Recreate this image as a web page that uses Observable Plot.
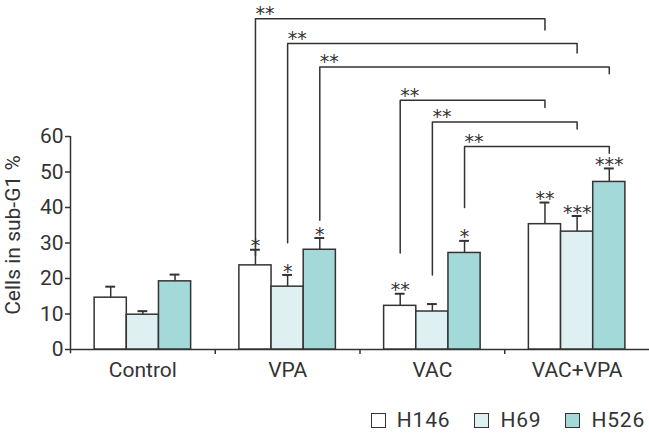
<!DOCTYPE html>
<html>
<head>
<meta charset="utf-8">
<script src="https://cdn.jsdelivr.net/npm/d3@7"></script>
<script src="https://cdn.jsdelivr.net/npm/@observablehq/plot@0.6"></script>
<style>
  body { margin: 0; background: #fff; font-family: Roboto, sans-serif; color: #333; }
  #wrap { position: relative; width: 649px; height: 435px; }
  #legend { position: absolute; left: 0; top: 408px; width: 645px; display: flex; justify-content: flex-end; align-items: center; font-size: 21px; letter-spacing: 0.8px; }
  .item { display: flex; align-items: center; margin-left: 24px; }
  .sw { width: 13px; height: 13px; border: 1.5px solid #333; margin-right: 11px; }
</style>
</head>
<body>
<div id="wrap"><div id="chart"></div><div id="legend"></div></div>
<script>
const categories = ["Control", "VPA", "VAC", "VAC+VPA"];
const seriesNames = ["H146", "H69", "H526"];
const h146Mean = [14.6, 23.7, 12.3, 35.3];
const h146Err  = [3.1, 4.4, 3.4, 6.1];
const h69Mean  = [9.8, 17.7, 10.7, 33.2];
const h69Err   = [1.0, 3.3, 2.1, 4.4];
const h526Mean = [19.2, 28.1, 27.2, 47.2];
const h526Err  = [1.9, 3.3, 3.4, 3.8];
const h146Sig  = ["", "*", "**", "**"];
const h69Sig   = ["", "*", "", "***"];
const h526Sig  = ["", "*", "*", "***"];
const yTicks = [0, 10, 20, 30, 40, 50, 60];
const yLabel = "Cells in sub-G1 %";

// comparison brackets
const bracketFromCat = ["VPA", "VPA", "VPA", "VAC", "VAC", "VAC"];
const bracketToCat   = ["VAC+VPA", "VAC+VPA", "VAC+VPA", "VAC+VPA", "VAC+VPA", "VAC+VPA"];
const bracketSeries  = ["H146", "H69", "H526", "H146", "H69", "H526"];
const bracketLevel   = [93.2, 86.2, 79.6, 70.2, 64.1, 57.2];
const bracketLeftEnd = [26.4, 30.1, 36.4, 27.2, 21.0, 40.0];
const bracketRightEnd= [90.0, 83.5, 77.7, 68.2, 62.1, 55.3];
const bracketLabel   = ["**", "**", "**", "**", "**", "**"];

const colors = ["#ffffff", "#dff0f3", "#a3d9d9"];
const ink = "#333333";

const means = [h146Mean, h69Mean, h526Mean];
const errs = [h146Err, h69Err, h526Err];
const sigs = [h146Sig, h69Sig, h526Sig];

const barW = 2 / 9;
const capHalf = 0.034;
const xc = (ci, si) => ci + 0.5 + (si - 1) * barW;

const rows = categories.flatMap((cat, ci) => seriesNames.map((s, si) => ({
  cat, series: s, ci, si,
  mean: means[si][ci], err: errs[si][ci], sig: sigs[si][ci],
  xm: xc(ci, si)
})));

const bracketPts = [];
const bracketTxt = [];
bracketLevel.forEach((lv, i) => {
  const si = seriesNames.indexOf(bracketSeries[i]);
  const xl = xc(categories.indexOf(bracketFromCat[i]), si);
  const xr = xc(categories.indexOf(bracketToCat[i]), si);
  bracketPts.push({id: i, x: xl, y: bracketLeftEnd[i]});
  bracketPts.push({id: i, x: xl, y: lv});
  bracketPts.push({id: i, x: xr, y: lv});
  bracketPts.push({id: i, x: xr, y: bracketRightEnd[i]});
  bracketTxt.push({x: xl, y: lv, t: bracketLabel[i]});
});

const starFont = "'DejaVu Sans', sans-serif";

const chart = Plot.plot({
  width: 649,
  height: 400,
  marginLeft: 70,
  marginRight: 0,
  marginTop: 136,
  marginBottom: 51,
  style: {fontFamily: "Roboto, sans-serif", fontSize: "21px", color: ink, background: "#fff"},
  x: {domain: [0, 4]},
  y: {domain: [0, 60]},
  color: {domain: seriesNames, range: colors},
  marks: [
    Plot.axisY({ticks: yTicks, tickSize: 5, tickPadding: 2, fontSize: 21, label: null, stroke: ink, strokeWidth: 1.5, letterSpacing: 0.5}),
    Plot.axisX({ticks: categories.map((c, i) => i + 0.5), tickSize: 0, tickPadding: 13, fontSize: 21,
      tickFormat: v => categories[Math.floor(v)], label: null, letterSpacing: 0.8}),
    Plot.axisX({ticks: [1, 2, 3], tickSize: 5, tickFormat: () => "", label: null, stroke: ink, strokeWidth: 1.5}),
    Plot.text([yLabel], {frameAnchor: "left", textAnchor: "middle", rotate: -90, dx: -57, dy: -8, fontSize: 21, fill: ink, letterSpacing: 1}),
    Plot.ruleY([0], {stroke: ink, strokeWidth: 1.5}),
    Plot.ruleX([0], {y1: -1.2, y2: 60, stroke: ink, strokeWidth: 1.5}),
    Plot.ruleX(rows, {x: "xm", y1: "mean", y2: d => d.mean + d.err, stroke: ink, strokeWidth: 1.5}),
    Plot.ruleY(rows, {y: d => d.mean + d.err, x1: d => d.xm - capHalf, x2: d => d.xm + capHalf, stroke: ink, strokeWidth: 2}),
    Plot.rect(rows, {x1: d => d.xm - barW / 2, x2: d => d.xm + barW / 2, y1: 0, y2: "mean", fill: "series", stroke: ink, strokeWidth: 1.5}),
    Plot.text(rows.filter(d => d.sig), {x: "xm", y: d => d.mean + d.err, text: "sig", dy: -3.5, fontSize: 19, fontFamily: starFont, fill: ink, letterSpacing: 0.5}),
    Plot.line(bracketPts, {x: "x", y: "y", z: "id", stroke: ink, strokeWidth: 1.5, curve: "linear"}),
    Plot.text(bracketTxt, {x: "x", y: "y", text: "t", textAnchor: "start", dy: -4.6, fontSize: 19, fontFamily: starFont, fill: ink, letterSpacing: 0.5})
  ]
});
document.getElementById("chart").appendChild(chart);

const legend = document.getElementById("legend");
seriesNames.forEach((s, i) => {
  const it = document.createElement("div");
  it.className = "item";
  const sw = document.createElement("div");
  sw.className = "sw";
  sw.style.background = colors[i];
  const tx = document.createElement("span");
  tx.textContent = s;
  it.appendChild(sw); it.appendChild(tx);
  legend.appendChild(it);
});
</script>
</body>
</html>
